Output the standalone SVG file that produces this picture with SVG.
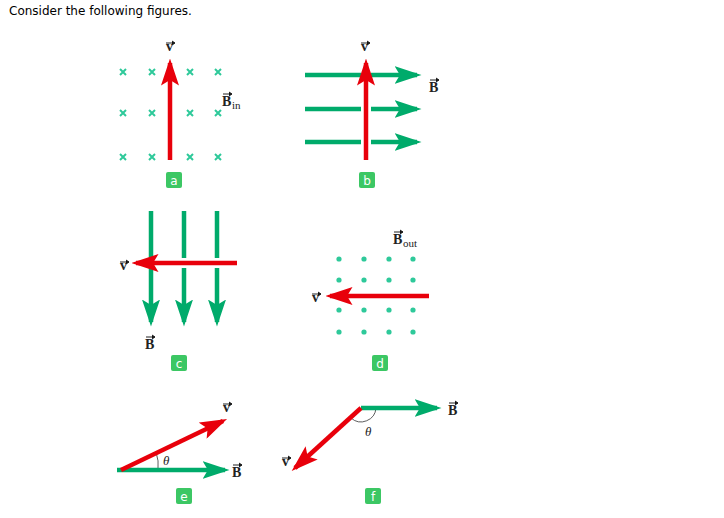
<svg xmlns="http://www.w3.org/2000/svg" width="724" height="518" viewBox="0 0 724 518">
<style>
.t{font-family:"DejaVu Sans",Verdana,sans-serif;font-size:12px;fill:#000}
.s{font-family:"Liberation Serif",serif;font-weight:bold;font-size:14px;fill:#222}
.sub{font-family:"Liberation Serif",serif;font-size:11px;fill:#222}
.th{font-family:"Liberation Serif",serif;font-style:italic;font-size:13px;fill:#222}
.r{stroke:#e8000b;stroke-width:4.5;fill:none}
.g{stroke:#00ab6b;stroke-width:4.5;fill:none}
.x{stroke:#2ec99a;stroke-width:2}
.d{fill:#2ec99a}
.lb{fill:#3cc764}
.lt{font-family:"DejaVu Sans",sans-serif;font-size:12px;fill:#fff;text-anchor:middle}
.ar{stroke:#222;stroke-width:1}
</style>
<defs>
<marker id="mr" markerWidth="6" markerHeight="4" refX="5" refY="2" orient="auto" markerUnits="strokeWidth"><path d="M0,0L6,2L0,4L1.2,2Z" fill="#e8000b"/></marker>
<marker id="mg" markerWidth="6" markerHeight="4" refX="5" refY="2" orient="auto" markerUnits="strokeWidth"><path d="M0,0L6,2L0,4L1.2,2Z" fill="#00ab6b"/></marker>
<symbol id="cr" overflow="visible"><path d="M-3,-3L3,3M3,-3L-3,3" class="x"/></symbol>
</defs>
<text class="t" x="9" y="15">Consider the following figures.</text>
<g id="fig-a">
<g>
<use href="#cr" x="123" y="72"/><use href="#cr" x="152" y="72"/><use href="#cr" x="190" y="72"/><use href="#cr" x="218" y="72"/>
<use href="#cr" x="123" y="113"/><use href="#cr" x="152" y="113"/><use href="#cr" x="190" y="113"/><use href="#cr" x="218" y="113"/>
<use href="#cr" x="123" y="157"/><use href="#cr" x="152" y="157"/><use href="#cr" x="190" y="157"/><use href="#cr" x="218" y="157"/>
</g>
<text class="s" x="166" y="51">v</text><path class="ar" d="M166,43h9M172,41l3,2-3,2"/>
<text class="s" x="222" y="106">B</text><text class="sub" x="232" y="109">in</text><path class="ar" d="M223,94h9M229,92l3,2-3,2"/>
<rect class="lb" x="166" y="172" width="16" height="16" rx="2"/><text class="lt" x="174" y="185">a</text>
</g>
<g id="fig-b">
<text class="s" x="361" y="51">v</text><path class="ar" d="M361,43h9M367,41l3,2-3,2"/>
<text class="s" x="429" y="92">B</text><path class="ar" d="M430,80h9M436,78l3,2-3,2"/>
<rect class="lb" x="359" y="172" width="16" height="16" rx="2"/><text class="lt" x="367" y="185">b</text>
</g>
<g id="fig-c">
<text class="s" x="120" y="270">v</text><path class="ar" d="M120,262h9M126,260l3,2-3,2"/>
<text class="s" x="145" y="349">B</text><path class="ar" d="M146,337h9M152,335l3,2-3,2"/>
<rect class="lb" x="171" y="355" width="16" height="16" rx="2"/><text class="lt" x="179" y="368">c</text>
</g>
<g id="fig-d">
<g class="d">
<circle cx="339" cy="259" r="2.6"/><circle cx="364" cy="259" r="2.6"/><circle cx="389" cy="259" r="2.6"/><circle cx="413" cy="259" r="2.6"/>
<circle cx="339" cy="280" r="2.6"/><circle cx="364" cy="280" r="2.6"/><circle cx="389" cy="280" r="2.6"/><circle cx="413" cy="280" r="2.6"/>
<circle cx="339" cy="310" r="2.6"/><circle cx="364" cy="310" r="2.6"/><circle cx="389" cy="310" r="2.6"/><circle cx="413" cy="310" r="2.6"/>
<circle cx="339" cy="332" r="2.6"/><circle cx="364" cy="332" r="2.6"/><circle cx="389" cy="332" r="2.6"/><circle cx="413" cy="332" r="2.6"/>
</g>
<text class="s" x="393" y="244">B</text><text class="sub" x="403" y="247">out</text><path class="ar" d="M394,232h9M400,230l3,2-3,2"/>
<text class="s" x="312" y="302">v</text><path class="ar" d="M312,294h9M318,292l3,2-3,2"/>
<rect class="lb" x="372" y="355" width="16" height="16" rx="2"/><text class="lt" x="380" y="368">d</text>
</g>
<g id="fig-e">
<path d="M158,470A40,40 0 0 0 156,452" fill="none" stroke="#333" stroke-width="0.8"/>
<text class="th" x="163" y="465">θ</text>
<text class="s" x="232" y="477">B</text><path class="ar" d="M233,465h9M239,463l3,2-3,2"/>
<text class="s" x="223" y="412">v</text><path class="ar" d="M223,404h9M229,402l3,2-3,2"/>
<rect class="lb" x="176" y="488" width="16" height="16" rx="2"/><text class="lt" x="184" y="501">e</text>
</g>
<g id="fig-f">
<path d="M376,408A15,15 0 0 1 351,418" fill="none" stroke="#333" stroke-width="0.8"/>
<text class="th" x="365" y="436">θ</text>
<text class="s" x="448" y="415">B</text><path class="ar" d="M449,403h9M455,401l3,2-3,2"/>
<text class="s" x="282" y="466">v</text><path class="ar" d="M282,458h9M288,456l3,2-3,2"/>
<rect class="lb" x="365" y="488" width="16" height="16" rx="2"/><text class="lt" x="373" y="501">f</text>
</g>
<g id="connectors">
<path class="r" d="M170,160V63" marker-end="url(#mr)"/>
<path class="g" d="M305,75H361M371,75H417" marker-end="url(#mg)"/>
<path class="g" d="M305,109H361M371,109H417" marker-end="url(#mg)"/>
<path class="g" d="M305,142H361M371,142H417" marker-end="url(#mg)"/>
<path class="r" d="M366,160V63" marker-end="url(#mr)"/>
<path class="g" d="M151,211V258M151,268V322" marker-end="url(#mg)"/>
<path class="g" d="M184,211V258M184,268V322" marker-end="url(#mg)"/>
<path class="g" d="M217,211V258M217,268V322" marker-end="url(#mg)"/>
<path class="r" d="M237,263H136" marker-end="url(#mr)"/>
<path class="r" d="M429,296H330" marker-end="url(#mr)"/>
<path class="g" d="M117,470H225" marker-end="url(#mg)"/>
<path class="r" d="M121,470L223,421" marker-end="url(#mr)"/>
<path class="g" d="M361,408H437" marker-end="url(#mg)"/>
<path class="r" d="M361,408L295,468" marker-end="url(#mr)"/>
</g>
</svg>
